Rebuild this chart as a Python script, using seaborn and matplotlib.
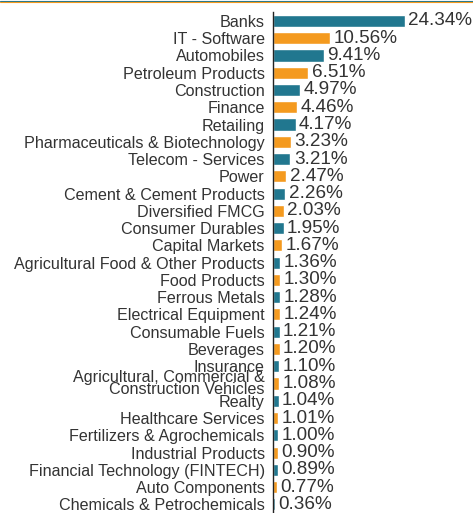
import matplotlib
matplotlib.use("Agg")
import matplotlib.pyplot as plt
import seaborn as sns
import pandas as pd
from matplotlib.lines import Line2D

sectors = [
    "Banks", "IT - Software", "Automobiles", "Petroleum Products", "Construction",
    "Finance", "Retailing", "Pharmaceuticals & Biotechnology", "Telecom - Services",
    "Power", "Cement & Cement Products", "Diversified FMCG", "Consumer Durables",
    "Capital Markets", "Agricultural Food & Other Products", "Food Products",
    "Ferrous Metals", "Electrical Equipment", "Consumable Fuels", "Beverages",
    "Insurance", "Agricultural, Commercial &\nConstruction Vehicles", "Realty",
    "Healthcare Services", "Fertilizers & Agrochemicals", "Industrial Products",
    "Financial Technology (FINTECH)", "Auto Components", "Chemicals & Petrochemicals",
]
weights = [24.34, 10.56, 9.41, 6.51, 4.97, 4.46, 4.17, 3.23, 3.21, 2.47, 2.26, 2.03,
           1.95, 1.67, 1.36, 1.30, 1.28, 1.24, 1.21, 1.20, 1.10, 1.08, 1.04, 1.01,
           1.00, 0.90, 0.89, 0.77, 0.36]

TEAL = "#21778f"
ORANGE = "#f49a1f"
colors = [TEAL if i % 2 == 0 else ORANGE for i in range(len(sectors))]

df = pd.DataFrame({"sector": sectors, "weight": weights})

sns.set_theme(style="white")
plt.rcParams["font.family"] = ["Liberation Sans", "DejaVu Sans"]

fig = plt.figure(figsize=(4.73, 5.13), dpi=100)
ax = fig.add_axes([273 / 473, 0.0, 200 / 473, 1 - 12.3 / 513])

sns.barplot(data=df, x="weight", y="sector", hue="sector", palette=colors,
            legend=False, width=0.7, ax=ax, saturation=1, orient="h")

ax.set_xlim(0, 200 / 5.42)
ax.set_ylim(len(sectors) - 0.5, -0.5)
ax.set_xlabel("")
ax.set_ylabel("")
ax.set_xticks([])
for s in ["top", "right", "bottom"]:
    ax.spines[s].set_visible(False)
ax.spines["left"].set_color("#222222")
ax.spines["left"].set_linewidth(1.0)
ax.tick_params(axis="y", length=0, pad=6)
for lbl in ax.get_yticklabels():
    lbl.set_fontsize(11.6)
    lbl.set_color("#333333")
    lbl.set_linespacing(0.76)

for i, w in enumerate(weights):
    ax.annotate(f"{w:.2f}%", xy=(w, i), xytext=(2.5, 0), textcoords="offset points",
                ha="left", va="center", fontsize=13.6, color="#333333")

fig.add_artist(Line2D([0, 1], [1 - 0.5 / 513, 1 - 0.5 / 513], color=TEAL, lw=0.8,
                      transform=fig.transFigure))
fig.add_artist(Line2D([0, 1], [1 - 1.7 / 513, 1 - 1.7 / 513], color=ORANGE, lw=0.8,
                      transform=fig.transFigure))

fig.savefig("out.png", dpi=100)
